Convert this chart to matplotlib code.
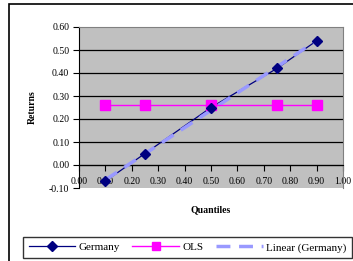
import numpy as np
import matplotlib.pyplot as plt
from matplotlib.patches import Rectangle
from matplotlib.lines import Line2D

# Data
quantiles = [0.10, 0.25, 0.50, 0.75, 0.90]
germany = [-0.07, 0.05, 0.25, 0.42, 0.54]
ols = [0.26, 0.26, 0.26, 0.26, 0.26]
x_ticks = [0.0, 0.1, 0.2, 0.3, 0.4, 0.5, 0.6, 0.7, 0.8, 0.9, 1.0]
y_ticks = [-0.1, 0.0, 0.1, 0.2, 0.3, 0.4, 0.5, 0.6]

plt.rcParams['font.family'] = ['Liberation Serif', 'DejaVu Serif']
plt.rcParams['font.size'] = 7

W, H = 353, 261
fig = plt.figure(figsize=(W / 100, H / 100), dpi=100)
fig.patch.set_facecolor('white')

# outer chart border
fig.patches.append(Rectangle((9 / W, -0.1), 1.2, 1 - 4 / H + 0.1, transform=fig.transFigure,
                             fill=False, edgecolor='black', lw=1.2))

ax = fig.add_axes([79 / W, 1 - 188 / H, (343 - 79) / W, (188 - 27) / H])
ax.set_facecolor('#c0c0c0')

navy, pink, lblue = '#000080', '#ff00ff', '#9999ff'

# Germany line, linear trend on top, then markers
ax.plot(quantiles, germany, color=navy, lw=0.9, zorder=3)
coef = np.polyfit(quantiles, germany, 1)
xt = np.array([quantiles[0], quantiles[-1]])
ax.plot(xt, np.polyval(coef, xt), color=lblue, lw=2.5, ls=(0, (4, 2.5)), zorder=4)
ax.plot(quantiles, germany, ls='none', marker='D', ms=5, color=navy, zorder=6)
ax.plot(quantiles, ols, color=pink, lw=1.0, marker='s', ms=7, zorder=5)

ax.set_xlim(0, 1)
ax.set_ylim(-0.1, 0.6)
ax.set_xticks(x_ticks)
ax.set_xticklabels(['%.2f' % v for v in x_ticks])
ax.set_yticks(y_ticks)
ax.set_yticklabels(['%.2f' % v for v in y_ticks])

for y in y_ticks[1:-1]:
    ax.axhline(y, color='black', lw=0.9, zorder=1)

ax.spines['bottom'].set_position(('data', 0))
ax.spines['bottom'].set_color('black')
ax.spines['left'].set_color('black')
ax.spines['top'].set_color('#808080')
ax.spines['right'].set_color('#808080')
ax.tick_params(axis='x', direction='out', length=4, width=0.8, pad=5)
ax.tick_params(axis='y', direction='out', length=4, width=0.8, pad=3)

fig.text(32 / W, 1 - 107 / H, 'Returns', rotation=90, fontweight='bold',
         ha='center', va='center')
fig.text(211 / W, 1 - 210 / H, 'Quantiles', fontweight='bold',
         ha='center', va='center')

handles = [
    Line2D([], [], color=navy, lw=0.9, marker='D', ms=5),
    Line2D([], [], color=pink, lw=1.0, marker='s', ms=6),
    Line2D([], [], color=lblue, lw=2.5, ls=(0, (4, 2.5))),
]
labels = ['Germany', 'OLS', 'Linear (Germany)']
leg = fig.legend(handles, labels, ncol=3, loc='upper left', mode='expand',
                 bbox_to_anchor=(23 / W, -0.02, (352 - 23) / W, (261 - 237) / H + 0.02),
                 borderaxespad=0, frameon=True, fancybox=False, handlelength=4.2,
                 handletextpad=0.3, columnspacing=0.6, fontsize=8, borderpad=0.5)
leg.get_frame().set_edgecolor('black')
leg.get_frame().set_linewidth(1.0)

fig.savefig('out.png', dpi=100)
